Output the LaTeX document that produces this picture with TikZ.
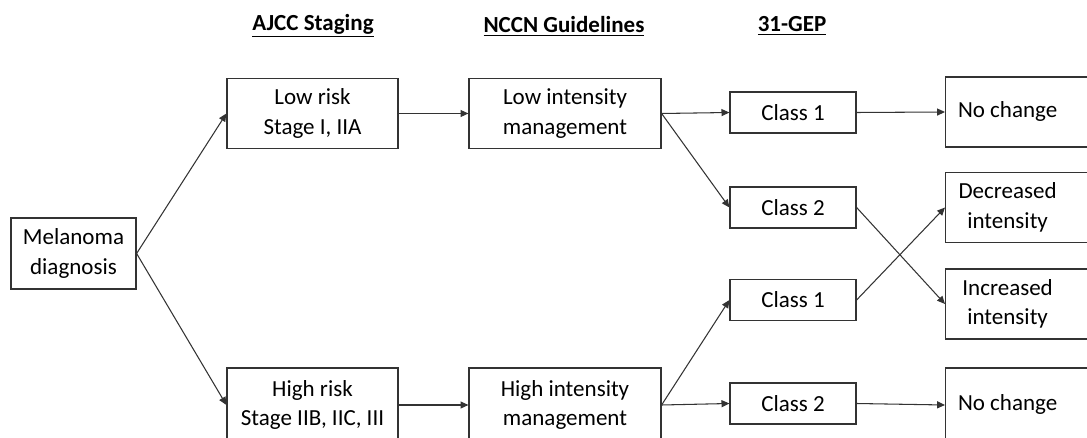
\documentclass[tikz,border=0pt]{standalone}
\usepackage{fontspec}
\setmainfont{Carlito}
\usepackage{tikz}
\usetikzlibrary{arrows.meta}
\usetikzlibrary{positioning}

\newcommand{\outtext}[1]{\makebox[2.48cm]{\begin{tabular}{@{}c@{}}#1\end{tabular}}\hspace{1.2cm}}

\begin{document}
\begin{tikzpicture}[x=0.02cm,y=-0.02cm,font=\fontsize{13.1}{17}\selectfont]
  \tikzset{box/.style = {shape=rectangle,draw=black!80,line width=0.7pt,align=center,inner sep=2pt}}
  \tikzset{bigbox/.style = {box,minimum width=3.42cm,minimum height=1.4cm}}
  \tikzset{midbox/.style = {box,minimum width=3.84cm,minimum height=1.4cm}}
  \tikzset{classbox/.style = {box,minimum width=2.52cm,minimum height=0.82cm}}
  \tikzset{outbox/.style = {box,anchor=west,inner xsep=0pt,minimum height=1.4cm}}
  \tikzset{head/.style = {font=\fontsize{13.1}{17}\selectfont\bfseries}}
  \tikzset{%
  tipB/.tip={Triangle[length=4.5pt,width=4pt]},
}
  \tikzset{edge/.style = {-tipB,draw=black!80,line width=0.6pt}}

  \useasboundingbox (0,0) rectangle (1087,438);

	\node[head] (AJ) at (313,26) {\underline{AJCC Staging}};
	\node[head] (NG) at (564,26) {\underline{NCCN Guidelines}};
	\node[head] (GP) at (792,26) {\underline{31-GEP}};

	\node[box,minimum width=2.5cm,minimum height=1.42cm] (MD) at (73.5,253.5) {Melanoma\\diagnosis};

	\node[bigbox] (LR) at (312.5,113.5) {Low risk\\Stage I, IIA};
	\node[bigbox,minimum height=1.48cm] (HR) at (312.5,405) {High risk\\Stage IIB, IIC, III};

	\node[midbox] (LI) at (565,113.5) {Low intensity\\management};
	\node[midbox,minimum height=1.48cm] (HI) at (565,405) {High intensity\\management};

	\node[classbox] (C1L) at (793,112.5) {Class 1};
	\node[classbox] (C2L) at (793,207.5) {Class 2};
	\node[classbox] (C1H) at (793,300) {Class 1};
	\node[classbox] (C2H) at (793,403.5) {Class 2};

	\node[outbox] (NCL) at (945,112) {\outtext{No change}};
	\node[outbox] (DI) at (945,207.5) {\outtext{Decreased\\intensity}};
	\node[outbox] (II) at (945,304) {\outtext{Increased\\intensity}};
	\node[outbox,minimum height=1.48cm] (NCH) at (945,405) {\outtext{No change}};

    \foreach \from/\to in {MD/LR, MD/HR, LR/LI, HR/HI, LI/C1L, LI/C2L, HI/C1H, HI/C2H, C1L/NCL, C2L/II, C1H/DI, C2H/NCH}
    \path (\from.east) edge[edge] (\to.west);

\end{tikzpicture}
\end{document}
